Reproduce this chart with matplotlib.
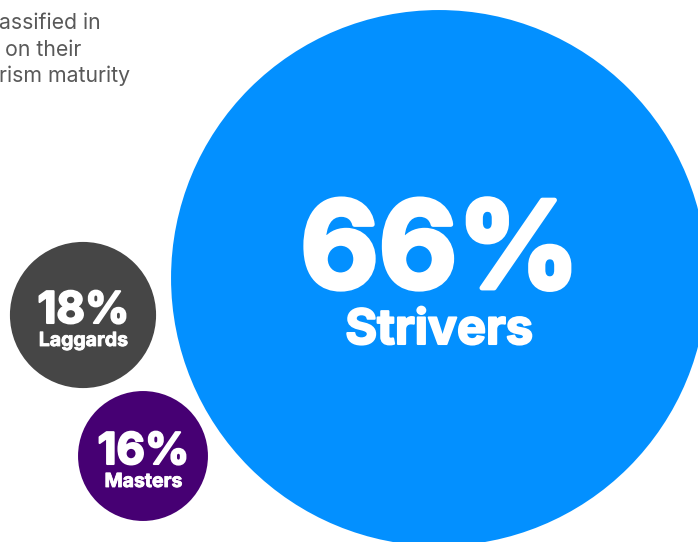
import matplotlib.pyplot as plt
from matplotlib.patches import Circle
import matplotlib.patheffects as pe

# maturity groups, share of companies (%)
groups = ['Strivers', 'Laggards', 'Masters']
shares = [66, 18, 16]
labels = ['66%', '18%', '16%']
colors = ['#0390FF', '#464646', '#460073']

# bubble centres in pixel space, radius grows linearly with share
centers = [(439, 278), (83, 315), (143, 456)]
px_per_pct = 4.06

intro = ['assified in', ' on their', 'rism maturity']

fig = plt.figure(figsize=(6.98, 5.42), dpi=100)
ax = fig.add_axes([0, 0, 1, 1])
ax.set_xlim(0, 698)
ax.set_ylim(542, 0)
ax.set_aspect('equal')
ax.axis('off')


def heavy(lw):
    # thicken the bold face a little
    return [pe.withStroke(linewidth=lw, foreground='white')]


big = max(shares)
for g, s, lab, c, (cx, cy) in zip(groups, shares, labels, colors, centers):
    r = s * px_per_pct
    ax.add_patch(Circle((cx, cy), r, color=c, lw=0))
    if s == big:
        ax.text(cx + 1, cy + 10, lab, ha='center', va='baseline', color='white',
                fontsize=87, fontweight='bold', family='Inter', path_effects=heavy(3.5))
        ax.text(cx, cy + 66, g, ha='center', va='baseline', color='white',
                fontsize=35, fontweight='bold', family='Inter', path_effects=heavy(1.5))
    else:
        ax.text(cx + 0.5, cy + 8, lab, ha='center', va='baseline', color='white',
                fontsize=31.5, fontweight='bold', family='Inter', path_effects=heavy(1.5))
        ax.text(cx + 0.5, cy + 31, g, ha='center', va='baseline', color='white',
                fontsize=14, fontweight='bold', family='Inter', path_effects=heavy(0.6))

for i, line in enumerate(intro):
    ax.text(-1, 29 + i * 26.5, line, ha='left', va='baseline', color='#595959',
            fontsize=15.3, family='Inter')

fig.savefig('out.png', dpi=100)
